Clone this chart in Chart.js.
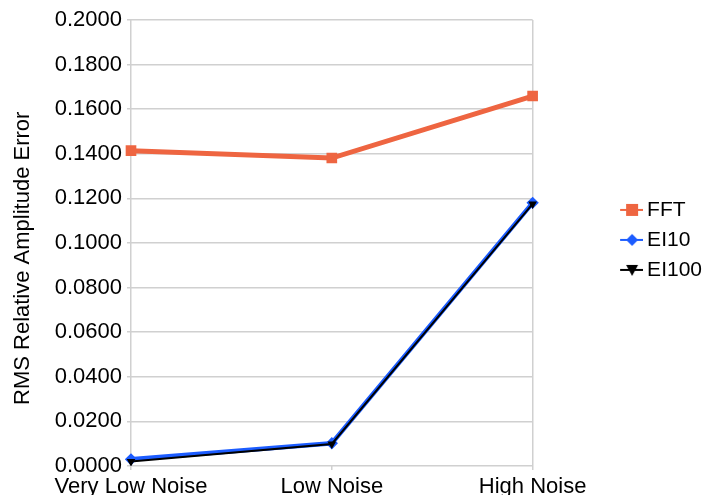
<!DOCTYPE html>
<html>
<head>
<meta charset="utf-8">
<script src="https://cdn.jsdelivr.net/npm/chart.js@4"></script>
<style>
    html, body { margin: 0; padding: 0; background: #fff; overflow: hidden; }
    #wrap { width: 706px; height: 506px; position: relative; }
</style>
</head>
<body>
<div id="wrap"><canvas id="chart"></canvas></div>
<script>
const LABELS = ['Very Low Noise', 'Low Noise', 'High Noise'];
const FFT = [0.1414, 0.1381, 0.1659];
const EI10 = [0.0030, 0.0102, 0.1180];
const EI100 = [0.0020, 0.0099, 0.1175];

const FONT = 'Liberation Sans, Arial, sans-serif';

// legend icons: line with the marker on top, drawn in the right part of the canvas
function legendIcon(color, shape) {
    const c = document.createElement('canvas');
    c.width = 37; c.height = 14;
    const ctx = c.getContext('2d');
    ctx.strokeStyle = color;
    ctx.lineWidth = 2;
    ctx.beginPath(); ctx.moveTo(14, 7); ctx.lineTo(37, 7); ctx.stroke();
    ctx.fillStyle = color;
    ctx.beginPath();
    if (shape === 'rect') {
        ctx.rect(20, 1, 12, 12);
    } else if (shape === 'diamond') {
        ctx.moveTo(26, 1); ctx.lineTo(32, 7); ctx.lineTo(26, 13); ctx.lineTo(20, 7);
    } else {
        ctx.moveTo(20, 2); ctx.lineTo(32, 2); ctx.lineTo(26, 13);
    }
    ctx.closePath(); ctx.fill();
    return c;
}

const ICONS = [
    legendIcon('#ee6541', 'rect'),
    legendIcon('#1c5cff', 'diamond'),
    legendIcon('#000000', 'tri'),
];

new Chart(document.getElementById('chart'), {
    type: 'line',
    data: {
        labels: LABELS,
        datasets: [
            {
                label: 'FFT',
                data: FFT,
                borderColor: '#ee6541',
                backgroundColor: '#ee6541',
                borderWidth: 5,
                pointStyle: 'rect',
                pointRadius: 4,
                order: 2,
            },
            {
                label: 'EI10',
                data: EI10,
                borderColor: '#1c5cff',
                backgroundColor: '#1c5cff',
                borderWidth: 4.5,
                pointStyle: 'rectRot',
                pointRadius: 3,
                order: 1,
            },
            {
                label: 'EI100',
                data: EI100,
                borderColor: '#000000',
                backgroundColor: '#000000',
                borderWidth: 2,
                pointStyle: 'triangle',
                pointRadius: 3,
                pointRotation: 180,
                order: 0,
            },
        ]
    },
    options: {
        responsive: true,
        maintainAspectRatio: false,
        animation: false,
        layout: { padding: { left: 0, right: -6, top: 20, bottom: 0 } },
        scales: {
            x: {
                offset: false,
                grid: {
                    color: ctx => (ctx.index === 1 ? 'rgba(0,0,0,0)' : '#d0d0d0'),
                    tickColor: '#d0d0d0',
                    lineWidth: 1.5,
                    tickLength: 4,
                },
                border: { display: false },
                ticks: {
                    color: '#000',
                    font: { family: FONT, size: 22 },
                    padding: 4,
                    maxRotation: 0,
                },
                afterFit: s => { s.height = 40; },
            },
            y: {
                min: 0,
                max: 0.2,
                grid: { color: '#d0d0d0', lineWidth: 1.5, tickLength: 4 },
                border: { display: false },
                ticks: {
                    stepSize: 0.02,
                    color: '#000',
                    font: { family: FONT, size: 22 },
                    padding: 5,
                    callback: v => v.toFixed(4),
                },
                title: {
                    display: true,
                    // trailing spaces push the text a little below the plot centre
                    text: 'RMS Relative Amplitude Error     ',
                    color: '#000',
                    font: { family: FONT, size: 22 },
                    padding: { top: 10, bottom: 0 },
                },
                afterFit: s => { s.width = 131; },
            },
            // empty axis that keeps the gap between plot and legend
            gap: {
                type: 'linear',
                position: 'right',
                display: true,
                grid: { display: false },
                border: { display: false },
                ticks: { display: false },
                afterFit: s => { s.width = 71; },
            },
        },
        plugins: {
            legend: {
                position: 'right',
                align: 'start',
                title: {
                    display: true,
                    text: '',
                    padding: { top: 78, bottom: 78 },
                },
                labels: {
                    color: '#000',
                    font: { family: FONT, size: 21 },
                    padding: 9,
                    usePointStyle: true,
                    pointStyleWidth: 24,
                    generateLabels: chart => chart.data.datasets.map((ds, i) => ({
                        text: ds.label,
                        fontColor: '#000',
                        fillStyle: ds.backgroundColor,
                        strokeStyle: ds.borderColor,
                        pointStyle: ICONS[i],
                        datasetIndex: i,
                        hidden: false,
                        lineWidth: 0,
                    })),
                },
            },
            tooltip: { enabled: false },
        }
    }
});
</script>
</body>
</html>
